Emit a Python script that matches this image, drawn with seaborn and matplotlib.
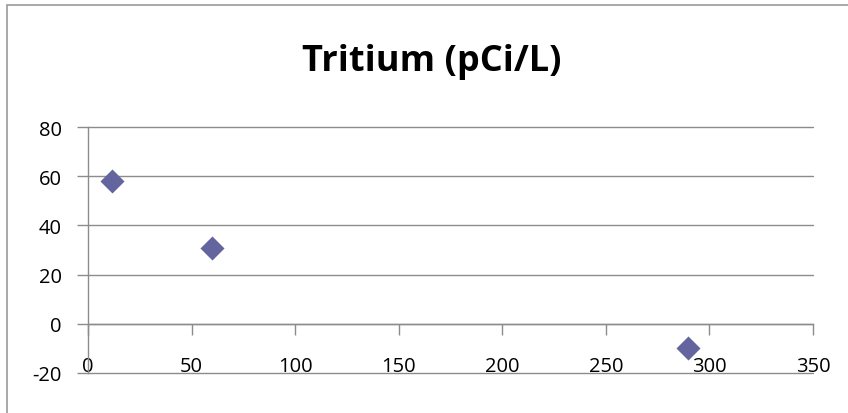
import matplotlib
matplotlib.use("Agg")
import matplotlib.pyplot as plt
import matplotlib.patches as mpatches
import seaborn as sns
import pandas as pd

# values
days = [11.5, 60, 289.5]
tritium = [58, 31, -10]
x_ticks = [0, 50, 100, 150, 200, 250, 300, 350]
y_ticks = [-20, 0, 20, 40, 60, 80]
title = 'Tritium (pCi/L)'

marker_col = '#64649E'
grid_col = '#8C8C8C'

sns.set_style('white')
plt.rcParams['font.family'] = ['Open Sans', 'DejaVu Sans']
plt.rcParams['text.color'] = 'black'
plt.rcParams['xtick.color'] = 'black'
plt.rcParams['ytick.color'] = 'black'

df = pd.DataFrame({'x': days, 'y': tritium})

fig = plt.figure(figsize=(8.48, 4.14), dpi=100)
ax = fig.add_axes([88/848, 1-374/414, 725/848, 246/414])

sns.scatterplot(data=df, x='x', y='y', ax=ax, marker='D', s=150,
                color=marker_col, edgecolor=marker_col, linewidth=0,
                zorder=5, clip_on=False)

ax.set_xlim(0, 350)
ax.set_ylim(-20, 80)
ax.set_xticks(x_ticks)
ax.set_yticks(y_ticks)
ax.set_yticklabels([str(v) for v in y_ticks])
ax.set_xlabel('')
ax.set_ylabel('')

ax.yaxis.grid(False)
ax.xaxis.grid(False)
for v in y_ticks:
    ax.axhline(v, color=grid_col, linewidth=1, zorder=1, clip_on=False)
for s in ['top', 'right']:
    ax.spines[s].set_visible(False)
ax.spines['left'].set_color(grid_col)
ax.spines['left'].set_linewidth(1)

# horizontal axis crosses at y = 0, its labels sit low near the bottom
ax.spines['bottom'].set_position(('data', 0))
ax.spines['bottom'].set_color(grid_col)
ax.spines['bottom'].set_linewidth(1)
ax.tick_params(axis='x', direction='out', length=8, width=1, color=grid_col,
               labelcolor='black', labelsize=14.5, pad=15, bottom=True)

ax.tick_params(axis='y', direction='out', length=8, width=1, color=grid_col,
               labelcolor='black', labelsize=14.5, pad=11, left=True)

fig.text(432/848, 1-62/414, title, ha='center', va='center',
         fontsize=26, fontweight='bold')

# chart border
fig.patches.append(mpatches.Rectangle((7/848, -0.1), 1.2, 1-6/414+0.1,
                                      transform=fig.transFigure, fill=False,
                                      edgecolor='#9A9A9A', linewidth=1.2))

fig.savefig('out.png', dpi=100)
